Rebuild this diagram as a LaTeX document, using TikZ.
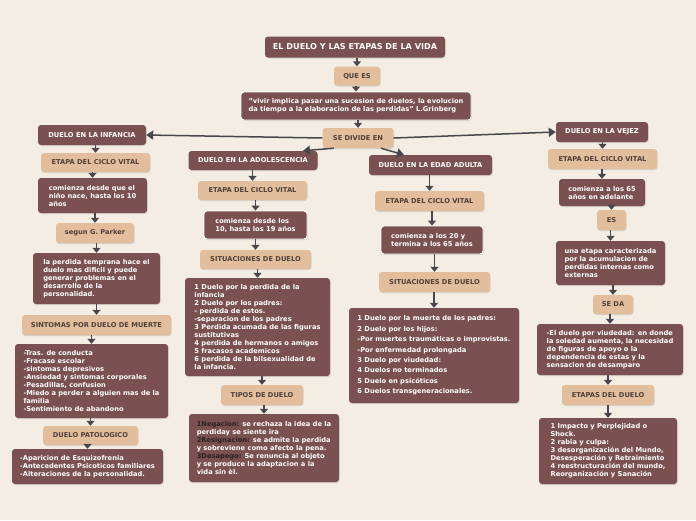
\documentclass[tikz,border=0pt]{standalone}
\usepackage{fontspec}
\setmainfont{DejaVu Sans}
\usetikzlibrary{arrows.meta,shadows}
\definecolor{fondo}{HTML}{F3EDE3}
\definecolor{vino}{HTML}{7A5050}
\definecolor{arena}{HTML}{E3BE9C}
\definecolor{tinta}{HTML}{4E403B}
\definecolor{flecha}{HTML}{48484C}
\definecolor{negro}{HTML}{2A2222}
\tikzset{
  caja/.style={rounded corners=3pt, font=\fontsize{6.7}{8}\selectfont\bfseries,
    inner xsep=6pt, inner ysep=3pt,
    drop shadow={shadow xshift=0.6pt, shadow yshift=-1pt, opacity=0.25}},
  oscura/.style={caja, fill=vino, text=white},
  clara/.style={caja, fill=arena, text=tinta},
  borde/.style={draw=white, line width=0.9pt},
  bloque/.style={oscura, align=left, minimum width=#1},
  paso/.style={-{Triangle[width=8pt,length=5pt]}, flecha, line width=1.6pt},
  rama/.style={-{Triangle[width=9pt,length=7pt]}, flecha, line width=1.5pt},
}
\begin{document}
\begin{tikzpicture}[x=1pt, y=-1pt]
    \fill[fondo] (0,0) rectangle (696,520);
    % tronco
    \node[oscura, minimum width=180, minimum height=21, font=\fontsize{8.1}{9}\selectfont\bfseries] (titulo) at (355,47) {EL DUELO Y LAS ETAPAS DE LA VIDA};
    \node[clara, minimum width=46, minimum height=19] (quees) at (357,76) {QUE ES};
    \node[bloque=230, borde, minimum height=28] (cita) at (356,106) {"vivir implica pasar una sucesion de duelos, la evolucion\\da tiempo a la elaboracion de las perdidas" L.Grinberg};
    \node[clara, minimum width=71, minimum height=20] (divide) at (358,138) {SE DIVIDE EN};
    \node[oscura, minimum width=108, minimum height=20] (inf) at (92,135) {DUELO EN LA INFANCIA};
    \node[oscura, minimum width=92, minimum height=20] (vej) at (602,132) {DUELO EN LA VEJEZ};
    \node[oscura, minimum width=129, minimum height=19] (ado) at (253,160.5) {DUELO EN LA ADOLESCENCIA};
    \node[oscura, minimum width=123, minimum height=20] (adu) at (430.5,165) {DUELO EN LA EDAD ADULTA};
    % infancia
    \node[clara, minimum width=109, minimum height=19] (i1) at (95.5,162.5) {ETAPA DEL CICLO VITAL};
    \node[bloque=109, minimum height=35] (i2) at (92.5,195.5) {comienza desde que el\\niño nace, hasta los 10\\años};
    \node[clara, minimum width=78, minimum height=20] (i3) at (95,233) {segun G. Parker};
    \node[bloque=127, minimum height=51] (i4) at (96.5,278.5) {la perdida temprana hace el\\duelo mas dificil y puede\\generar problemas en el\\desarrollo de la\\personalidad.};
    \node[clara, minimum width=149, minimum height=20] (i5) at (96.5,325) {SINTOMAS POR DUELO DE MUERTE};
    \node[bloque=153, minimum height=74] (i6) at (91.5,381) {-Tras. de conducta\\-Fracaso escolar\\-sintomas depresivos\\-Ansiedad y sintomas corporales\\-Pesadillas, confusion\\-Miedo a perder a alguien mas de la\\familia\\-Sentimiento de abandono};
    \node[clara, minimum width=95, minimum height=19] (i7) at (90.5,435.5) {DUELO PATOLOGICO};
    \node[bloque=151, minimum height=35] (i8) at (87.5,466.5) {-Aparicion de Esquizofrenia\\-Antecedentes Psicoticos familiares\\-Alteraciones de la personalidad.};
    % adolescencia
    \node[clara, minimum width=109, minimum height=19] (a1) at (252.5,190.5) {ETAPA DEL CICLO VITAL};
    \node[bloque=103, borde, minimum height=28] (a2) at (255.5,225) {comienza desde los\\10, hasta los 19 años};
    \node[clara, minimum width=111, minimum height=19] (a3) at (255.5,259.5) {SITUACIONES DE DUELO};
    \node[bloque=145, minimum height=98] (a4) at (257.5,327) {1 Duelo por la perdida de la\\infancia\\2 Duelo por los padres:\\- perdida de estos.\\-separacion de los padres\\3 Perdida acumada de las figuras\\sustitutivas\\4 perdida de hermanos o amigos\\5 fracasos academicos\\6 perdida de la bilsexualidad de\\la infancia.};
    \node[clara, minimum width=82, minimum height=20] (a5) at (262,395) {TIPOS DE DUELO};
    \node[bloque=150, minimum height=68] (a6) at (264,448) {\textcolor{negro}{1Negacion:} se rechaza la idea de la\\perdiday se siente ira\\\textcolor{negro}{2Resignacion:} se admite la perdida\\y sobreviene como afecto la pena.\\\textcolor{negro}{3Desapego:} Se renuncia al objeto\\y se produce la adaptacion a la\\vida sin èl.};
    % adulta
    \node[clara, minimum width=109, minimum height=20] (d1) at (429.5,201) {ETAPA DEL CICLO VITAL};
    \node[bloque=102, borde, minimum height=28] (d2) at (432,240) {comienza a los 20 y\\termina a los 65 años};
    \node[clara, minimum width=111, minimum height=20] (d3) at (434.5,282) {SITUACIONES DE DUELO};
    \node[bloque=170, minimum height=95, font=\fontsize{6.7}{10.4}\selectfont\bfseries] (d4) at (434,355.5) {1 Duelo por la muerte de los padres:\\2 Duelo por los hijos:\\-Por muertes traumáticas o improvistas.\\-Por enfermedad prolongada\\3 Duelo por viudedad:\\4 Duelos no terminados\\5 Duelo en psicóticos\\6 Duelos transgeneracionales.};
    % vejez
    \node[clara, minimum width=109, minimum height=20] (v1) at (602.5,159) {ETAPA DEL CICLO VITAL};
    \node[bloque=86, minimum height=27] (v2) at (602,192.5) {comienza a los 65\\años en adelante};
    \node[clara, minimum width=29, minimum height=20, inner xsep=4pt] (v3) at (611.5,220) {ES};
    \node[bloque=109, minimum height=44] (v4) at (610.5,263) {una etapa caracterizada\\por la acumulacion de\\perdidas internas como\\externas};
    \node[clara, minimum width=40, minimum height=19] (v5) at (613,304.5) {SE DA};
    \node[bloque=146, minimum height=51] (v6) at (610,349.5) {-El duelo por viudedad: en donde\\la soledad aumenta, la necesidad\\de figuras de apoyo o la\\dependencia de estas y la\\sensacion de desamparo};
    \node[clara, minimum width=92, minimum height=20] (v7) at (608,395) {ETAPAS DEL DUELO};
    \node[bloque=138, minimum height=66] (v8) at (608,451) {1 Impacto y Perplejidad o\\Shock.\\2 rabia y culpa:\\3 desorganización del Mundo,\\Desesperación y Retraimiento\\4 reestructuración del mundo,\\Reorganización y Sanación};
    % ramas
    \draw[rama] (divide.west) -- (inf.east);
    \draw[rama] (divide.east) -- (vej.west);
    \draw[rama] (divide.203) -- (ado.11);
    \draw[rama] (divide.-24) -- (adu.159);
    % pasos
    \foreach \a/\b in {titulo/quees, quees/cita, cita/divide,
        inf/i1, i1/i2, i2/i3, i3/i4, i4/i5, i5/i6, i6/i7, i7/i8,
        ado/a1, a1/a2, a2/a3, a3/a4, a4/a5, a5/a6,
        adu/d1, d1/d2, d2/d3, d3/d4,
        vej/v1, v1/v2, v2/v3, v3/v4, v4/v5, v5/v6, v6/v7, v7/v8}
        \draw[paso] (\a.south -| \b) -- (\b.north);
\end{tikzpicture}
\end{document}
